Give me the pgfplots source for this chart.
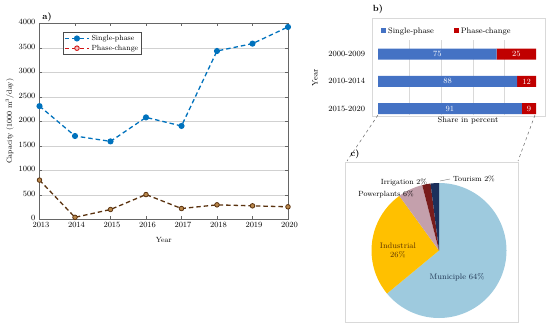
\documentclass[border=0pt]{standalone}
\usepackage{pgfplots}
\pgfplotsset{compat=1.18}
\definecolor{spblue}{RGB}{0,114,189}
\definecolor{pcbrown}{RGB}{90,50,15}
\definecolor{pcfill}{RGB}{185,135,75}
\definecolor{pcred}{RGB}{210,20,20}
\definecolor{bblue}{RGB}{68,114,196}
\definecolor{bred}{RGB}{192,0,0}
\definecolor{boxgray}{RGB}{217,217,217}
\definecolor{pieblue}{RGB}{158,202,222}
\definecolor{piegold}{RGB}{255,192,0}
\definecolor{piemauve}{RGB}{196,160,172}
\definecolor{piered}{RGB}{120,28,28}
\definecolor{pienavy}{RGB}{28,48,92}
\definecolor{labnavy}{RGB}{30,50,80}
\definecolor{labbrown}{RGB}{90,50,0}
\newcommand{\fs}[1]{\fontsize{#1}{#1}\selectfont}
\begin{document}
\begin{tikzpicture}
\useasboundingbox (0bp,0bp) rectangle (550bp,327bp);
% frames of panels b and c
\draw[boxgray, line width=0.6pt] (372bp,211bp) rectangle (545bp,309bp);
\draw[boxgray, line width=0.6pt] (345bp,5bp) rectangle (518bp,165bp);
\draw[black!60, dashed, line width=0.5pt] (378bp,212bp) -- (347bp,166bp);
\draw[black!60, dashed, line width=0.5pt] (535bp,212bp) -- (518bp,166bp);
% ---------------- panel a
\begin{axis}[
  at={(39.5bp,107.7bp)}, anchor=south west,
  scale only axis, width=248.5bp, height=196bp,
  xmin=2013, xmax=2020, ymin=0, ymax=4000,
  xtick={2013,2014,2015,2016,2017,2018,2019,2020},
  ytick={0,500,1000,1500,2000,2500,3000,3500,4000},
  scaled ticks=false,
  /pgf/number format/1000 sep={},
  tick label style={font=\fs{8}},
  yticklabel style={xshift=-0.5bp, yshift=1bp},
  xticklabel style={xshift=1.5bp},
  tick align=inside, major tick length=3bp,
  axis line style={black!60}, tick style={black!60},
  ymajorgrids, grid style={black!18},
  xlabel={Year}, ylabel={Capacity (1000 m$^3$/day)},
  label style={font=\fs{7.5}},
  xlabel style={at={(axis description cs:0.5,-0.105)}, anchor=center},
  ylabel style={at={(axis description cs:-0.12,0.5)}, anchor=center},
  legend style={at={(0.095,0.956)}, anchor=north west, font=\fs{7.5},
    draw=black!70, inner sep=1pt, row sep=-1pt},
  legend cell align=left,
  legend image code/.code={\draw[mark repeat=2,mark phase=2,#1] plot coordinates {(0bp,0bp) (12bp,0bp) (24bp,0bp)};},
]
\addplot[spblue, line width=1.3pt, dash pattern=on 4.5pt off 3pt, mark=*, mark size=2.4pt, mark options={solid}]
  coordinates {(2013,2310) (2014,1700) (2015,1590) (2016,2080) (2017,1905) (2018,3435) (2019,3585) (2020,3925)};
\addlegendentry{Single-phase}
\addplot[pcbrown, line width=1.3pt, dash pattern=on 4.5pt off 3pt, mark=*, mark size=2.3pt,
  mark options={solid, fill=pcfill, draw=pcbrown, line width=0.8pt}, forget plot]
  coordinates {(2013,800) (2014,40) (2015,200) (2016,505) (2017,220) (2018,295) (2019,275) (2020,255)};
\addlegendimage{pcred, line width=1.3pt, dash pattern=on 4.5pt off 3pt, mark=*, mark size=2.3pt,
  mark options={solid, fill=pcred!25, draw=pcred, line width=0.9pt}}
\addlegendentry{Phase-change}
\end{axis}
\node[font=\bfseries\fs{9}] at (47bp,310bp) {a)};
% ---------------- panel b
\begin{axis}[
  at={(378bp,212bp)}, anchor=south west,
  scale only axis, width=158bp, height=74.6bp,
  xbar stacked, bar width=11bp,
  xmin=0, xmax=100, ymin=-0.23, ymax=2.5,
  ytick={0,1,2}, yticklabels={2015-2020,2010-2014,2000-2009},
  xtick={20,40,60,80}, xticklabels={},
  xmajorgrids, grid style={boxgray, line width=0.5pt},
  axis line style={draw=none}, major tick length=0pt,
  tick label style={font=\fs{8}},
  yticklabel style={xshift=-9.5bp},
  xlabel={Share in percent}, ylabel={Year},
  label style={font=\fs{8}},
  xlabel style={at={(axis description cs:0.57,-0.08)}, anchor=center},
  ylabel style={at={(axis description cs:-0.399,0.5)}, anchor=center},
  legend style={at={(0.0,1.126)}, anchor=west, font=\fs{8}, draw=none, fill=none,
    legend columns=2, /tikz/every even column/.append style={column sep=18bp}},
  legend image code/.code={\fill[#1] (0bp,-2.5bp) rectangle (5bp,2.5bp);},
]
\addplot[fill=bblue, draw=none] coordinates {(91,0) (88,1) (75,2)};
\addlegendentry{Single-phase}
\addplot[fill=bred, draw=none] coordinates {(9,0) (12,1) (25,2)};
\addlegendentry{Phase-change}
\coordinate (l75) at (axis cs:37.5,2);
\coordinate (l25) at (axis cs:87.5,2);
\coordinate (l88) at (axis cs:44,1);
\coordinate (l12) at (axis cs:94,1);
\coordinate (l91) at (axis cs:45.5,0);
\coordinate (l9) at (axis cs:95.5,0);
\end{axis}
\begin{scope}[every node/.style={text=white, font=\fs{8}}]
\node at (l75) {75};
\node at (l25) {25};
\node at (l88) {88};
\node at (l12) {12};
\node at (l91) {91};
\node at (l9) {9};
\end{scope}
\node[font=\bfseries\fs{9}] at (378bp,318bp) {b)};
% ---------------- panel c
\begin{axis}[
  at={(439bp,76.5bp)}, anchor=center,
  scale only axis, width=135bp, height=135bp,
  xmin=-1, xmax=1, ymin=-1, ymax=1, hide axis, clip=false,
]
\fill[pieblue] (axis cs:0,0) -- (axis cs:{cos(90)},{sin(90)}) arc[start angle=90, delta angle=-3.6*64, radius=67.5bp] -- cycle;
\fill[piegold] (axis cs:0,0) -- (axis cs:{cos(90-3.6*64)},{sin(90-3.6*64)}) arc[start angle=90-3.6*64, delta angle=-3.6*26, radius=67.5bp] -- cycle;
\fill[piemauve] (axis cs:0,0) -- (axis cs:{cos(90-3.6*90)},{sin(90-3.6*90)}) arc[start angle=90-3.6*90, delta angle=-3.6*6, radius=67.5bp] -- cycle;
\fill[piered] (axis cs:0,0) -- (axis cs:{cos(90-3.6*96)},{sin(90-3.6*96)}) arc[start angle=90-3.6*96, delta angle=-3.6*2, radius=67.5bp] -- cycle;
\fill[pienavy] (axis cs:0,0) -- (axis cs:{cos(90-3.6*98)},{sin(90-3.6*98)}) arc[start angle=90-3.6*98, delta angle=-3.6*2, radius=67.5bp] -- cycle;
\end{axis}
\node[font=\bfseries\fs{9}] at (355bp,173bp) {c)};
\node[font=\fs{8}, text=labnavy] at (457bp,50bp) {Municiple 64\%};
\node[font=\fs{8}, text=labbrown, align=center] at (398bp,77bp) {Industrial\\[1pt]26\%};
\node[font=\fs{7.5}] at (386bp,133bp) {Powerplants 6\%};
\node[font=\fs{7.5}] at (404bp,145bp) {Irrigation 2\%};
\node[font=\fs{7.5}] at (474bp,148bp) {Tourism 2\%};
\draw[black!50, line width=0.4pt] (440bp,146bp) -- (450bp,148bp);
\end{tikzpicture}
\end{document}
